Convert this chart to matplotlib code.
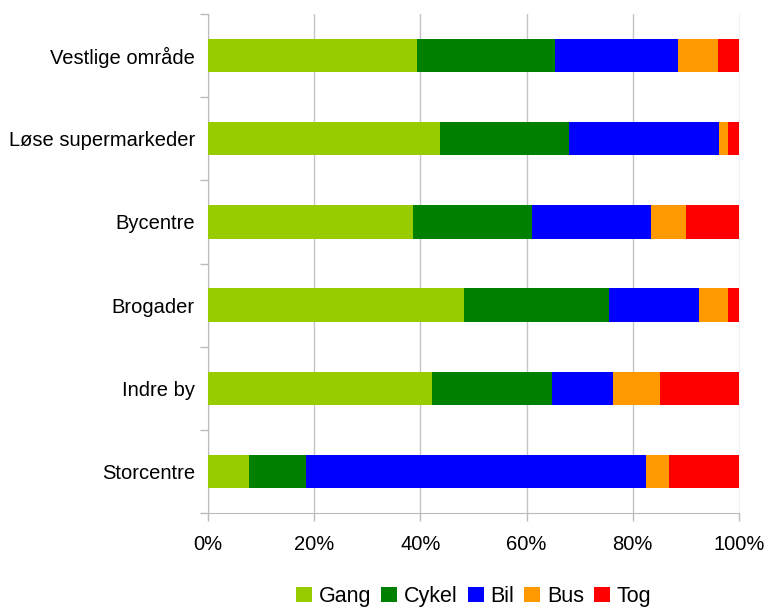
import numpy as np
import matplotlib.pyplot as plt
from matplotlib.ticker import PercentFormatter

plt.rcParams['font.family'] = ['Liberation Sans', 'DejaVu Sans']

# categories top -> bottom
omraader = ['Vestlige område', 'Løse supermarkeder', 'Bycentre', 'Brogader', 'Indre by', 'Storcentre']
modes = ['Gang', 'Cykel', 'Bil', 'Bus', 'Tog']
farver = ['#99CC00', '#008000', '#0000FF', '#FF9900', '#FF0000']

# shares in percent, one list per mode
gang = [39.4, 43.6, 38.7, 48.3, 42.1, 7.8]
cykel = [25.9, 24.3, 22.3, 27.2, 22.6, 10.7]
bil = [23.2, 28.3, 22.4, 17.0, 11.5, 64.0]
bus = [7.5, 1.7, 6.6, 5.4, 8.9, 4.3]
tog = [4.0, 2.1, 10.0, 2.1, 14.9, 13.2]

data = np.array([gang, cykel, bil, bus, tog])
data = data / data.sum(axis=0) * 100  # each row sums to 100%

fig = plt.figure(figsize=(7.68, 6.11), dpi=100)
ax = fig.add_axes([208/768, 1-513/611, (739-208)/768, (513-14)/611])

y = np.arange(len(omraader))
left = np.zeros(len(omraader))
for i, m in enumerate(modes):
    ax.barh(y, data[i], left=left, height=0.4, color=farver[i], label=m, zorder=3)
    left += data[i]

ax.set_ylim(len(omraader)-0.5, -0.5)
ax.set_xlim(0, 100)
ax.set_yticks(y)
ax.set_yticklabels(omraader, fontsize=14.5)
ax.set_yticks(np.arange(-0.5, len(omraader)), minor=True)
ax.tick_params(axis='y', which='major', length=0, pad=9.5)
ax.tick_params(axis='y', which='minor', length=6, color='#bbbbbb', width=1)
ax.set_xticks(np.arange(0, 101, 20))
ax.xaxis.set_major_formatter(PercentFormatter(decimals=0))
ax.tick_params(axis='x', length=6, color='#bbbbbb', width=1, labelsize=14.5, pad=10)

ax.grid(axis='x', color='#c4c4c4', lw=1, zorder=0)
ax.spines['top'].set_visible(False)
ax.spines['right'].set_color('#f2f2f2')
ax.spines['left'].set_color('#bbbbbb')
ax.spines['bottom'].set_color('#bbbbbb')
gl = ax.get_xgridlines()
gl[-1].set_color('#f2f2f2')

ax.legend(loc='center', bbox_to_anchor=(0.5, -0.168), ncol=5, frameon=False,
          fontsize=15.5, handlelength=0.75, handleheight=0.7, handletextpad=0.3,
          columnspacing=0.47, borderaxespad=0, borderpad=0)

fig.savefig('out.png', dpi=100)
